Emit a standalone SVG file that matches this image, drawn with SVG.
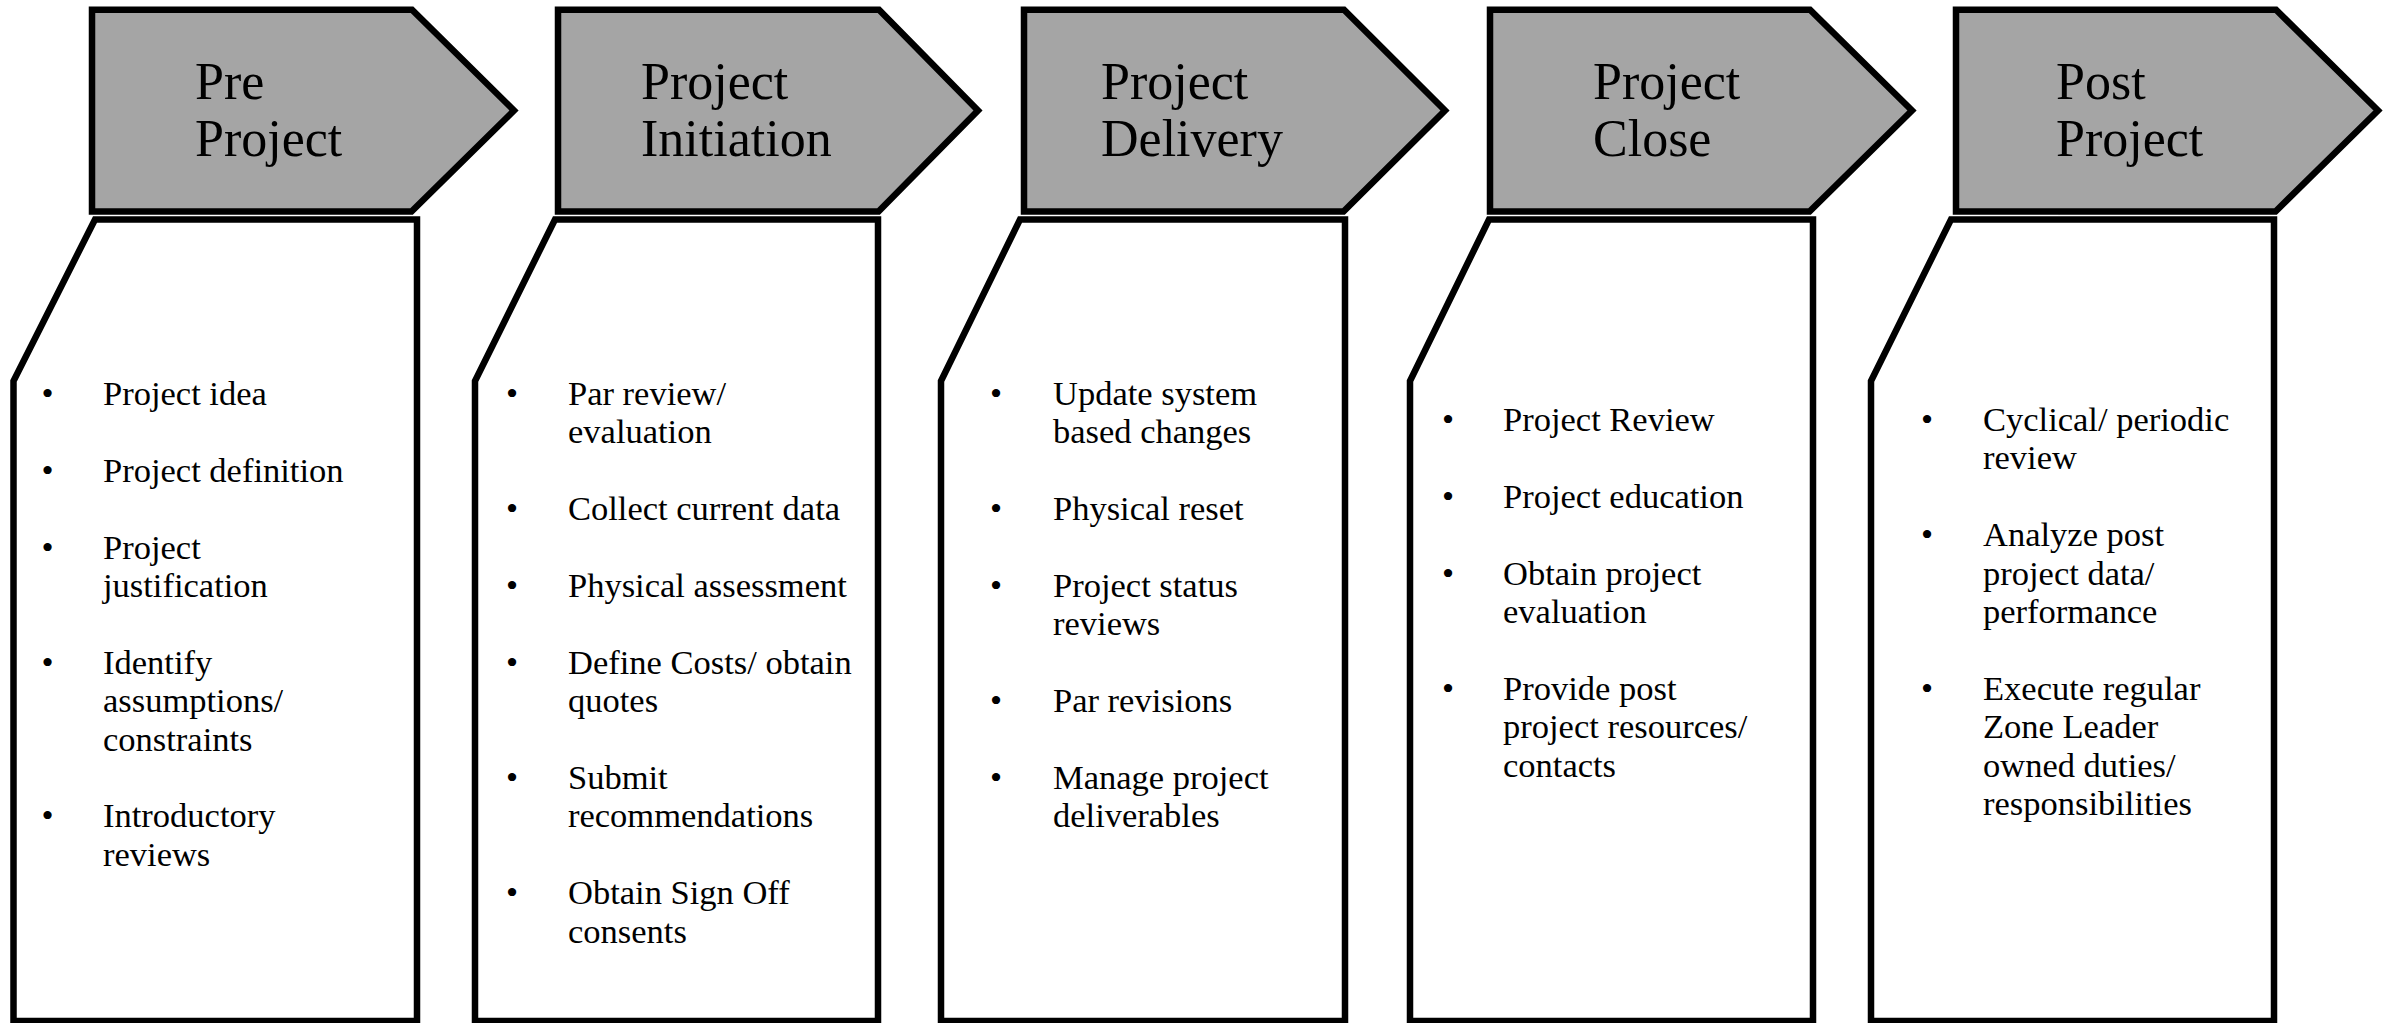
<svg xmlns="http://www.w3.org/2000/svg" width="2390" height="1023" viewBox="0 0 2390 1023">
<style>
.hdr{fill:#a5a5a5;stroke:#000;stroke-width:6.5;stroke-linejoin:miter}
.body{fill:#fff;stroke:#000;stroke-width:6.5;stroke-linejoin:miter}
.ht{font-family:"Liberation Serif","Times New Roman",serif;font-size:52px;fill:#000}
.bt{font-family:"Liberation Serif","Times New Roman",serif;font-size:34.5px;fill:#000}
.bu{font-family:"Liberation Serif","Times New Roman",serif;font-size:34.5px;fill:#000;text-anchor:middle}
</style>
<rect width="2390" height="1023" fill="#fff"/>

<g id="col1">
<g id="col1-header">
<path class="hdr" d="M92,9.7 L412,9.7 L514,110.5 L411.5,211.5 L92,211.5 Z"/>
<text class="ht"><tspan x="195" y="99">Pre</tspan><tspan x="195" y="156">Project</tspan></text>
</g>
<g id="col1-body">
<path class="body" d="M95,219.5 L417,219.5 L417,1021 L13.5,1021 L13.5,381 Z"/>
<text class="bu" x="47.5" y="405">•</text>
<text class="bt"><tspan x="103" y="405">Project idea</tspan></text>
<text class="bu" x="47.5" y="481.8">•</text>
<text class="bt"><tspan x="103" y="481.8">Project definition</tspan></text>
<text class="bu" x="47.5" y="558.6">•</text>
<text class="bt"><tspan x="103" y="558.6">Project</tspan><tspan x="103" y="597">justification</tspan></text>
<text class="bu" x="47.5" y="673.8">•</text>
<text class="bt"><tspan x="103" y="673.8">Identify</tspan><tspan x="103" y="712.2">assumptions/</tspan><tspan x="103" y="750.6">constraints</tspan></text>
<text class="bu" x="47.5" y="827.4">•</text>
<text class="bt"><tspan x="103" y="827.4">Introductory</tspan><tspan x="103" y="865.8">reviews</tspan></text>
</g>
</g>

<g id="col2">
<g id="col2-header">
<path class="hdr" d="M558,9.7 L879,9.7 L978,110.5 L878.5,211.5 L558,211.5 Z"/>
<text class="ht"><tspan x="641" y="99">Project</tspan><tspan x="641" y="156">Initiation</tspan></text>
</g>
<g id="col2-body">
<path class="body" d="M555,219.5 L878,219.5 L878,1021 L475,1021 L475,381 Z"/>
<text class="bu" x="512" y="405">•</text>
<text class="bt"><tspan x="568" y="405">Par review/</tspan><tspan x="568" y="443.4">evaluation</tspan></text>
<text class="bu" x="512" y="520.2">•</text>
<text class="bt"><tspan x="568" y="520.2">Collect current data</tspan></text>
<text class="bu" x="512" y="597">•</text>
<text class="bt"><tspan x="568" y="597">Physical assessment</tspan></text>
<text class="bu" x="512" y="673.8">•</text>
<text class="bt"><tspan x="568" y="673.8">Define Costs/ obtain</tspan><tspan x="568" y="712.2">quotes</tspan></text>
<text class="bu" x="512" y="789">•</text>
<text class="bt"><tspan x="568" y="789">Submit</tspan><tspan x="568" y="827.4">recommendations</tspan></text>
<text class="bu" x="512" y="904.2">•</text>
<text class="bt"><tspan x="568" y="904.2">Obtain Sign Off</tspan><tspan x="568" y="942.6">consents</tspan></text>
</g>
</g>

<g id="col3">
<g id="col3-header">
<path class="hdr" d="M1024,9.7 L1344,9.7 L1445,110.5 L1343.5,211.5 L1024,211.5 Z"/>
<text class="ht"><tspan x="1101" y="99">Project</tspan><tspan x="1101" y="156">Delivery</tspan></text>
</g>
<g id="col3-body">
<path class="body" d="M1020,219.5 L1345,219.5 L1345,1021 L941,1021 L941,381 Z"/>
<text class="bu" x="996" y="405">•</text>
<text class="bt"><tspan x="1053" y="405">Update system</tspan><tspan x="1053" y="443.4">based changes</tspan></text>
<text class="bu" x="996" y="520.2">•</text>
<text class="bt"><tspan x="1053" y="520.2">Physical reset</tspan></text>
<text class="bu" x="996" y="597">•</text>
<text class="bt"><tspan x="1053" y="597">Project status</tspan><tspan x="1053" y="635.4">reviews</tspan></text>
<text class="bu" x="996" y="712.2">•</text>
<text class="bt"><tspan x="1053" y="712.2">Par revisions</tspan></text>
<text class="bu" x="996" y="789">•</text>
<text class="bt"><tspan x="1053" y="789">Manage project</tspan><tspan x="1053" y="827.4">deliverables</tspan></text>
</g>
</g>

<g id="col4">
<g id="col4-header">
<path class="hdr" d="M1490,9.7 L1810,9.7 L1912,110.5 L1809.5,211.5 L1490,211.5 Z"/>
<text class="ht"><tspan x="1593" y="99">Project</tspan><tspan x="1593" y="156">Close</tspan></text>
</g>
<g id="col4-body">
<path class="body" d="M1489,219.5 L1813,219.5 L1813,1021 L1410,1021 L1410,381 Z"/>
<text class="bu" x="1448" y="431">•</text>
<text class="bt"><tspan x="1503" y="431">Project Review</tspan></text>
<text class="bu" x="1448" y="507.8">•</text>
<text class="bt"><tspan x="1503" y="507.8">Project education</tspan></text>
<text class="bu" x="1448" y="584.6">•</text>
<text class="bt"><tspan x="1503" y="584.6">Obtain project</tspan><tspan x="1503" y="623">evaluation</tspan></text>
<text class="bu" x="1448" y="699.8">•</text>
<text class="bt"><tspan x="1503" y="699.8">Provide post</tspan><tspan x="1503" y="738.2">project resources/</tspan><tspan x="1503" y="776.6">contacts</tspan></text>
</g>
</g>

<g id="col5">
<g id="col5-header">
<path class="hdr" d="M1956,9.7 L2276,9.7 L2378,110.5 L2275.5,211.5 L1956,211.5 Z"/>
<text class="ht"><tspan x="2056" y="99">Post</tspan><tspan x="2056" y="156">Project</tspan></text>
</g>
<g id="col5-body">
<path class="body" d="M1951,219.5 L2274,219.5 L2274,1021 L1871,1021 L1871,381 Z"/>
<text class="bu" x="1927" y="431">•</text>
<text class="bt"><tspan x="1983" y="431">Cyclical/ periodic</tspan><tspan x="1983" y="469.4">review</tspan></text>
<text class="bu" x="1927" y="546.2">•</text>
<text class="bt"><tspan x="1983" y="546.2">Analyze post</tspan><tspan x="1983" y="584.6">project data/</tspan><tspan x="1983" y="623">performance</tspan></text>
<text class="bu" x="1927" y="699.8">•</text>
<text class="bt"><tspan x="1983" y="699.8">Execute regular</tspan><tspan x="1983" y="738.2">Zone Leader</tspan><tspan x="1983" y="776.6">owned duties/</tspan><tspan x="1983" y="815">responsibilities</tspan></text>
</g>
</g>

<g id="connectors"></g>
</svg>
